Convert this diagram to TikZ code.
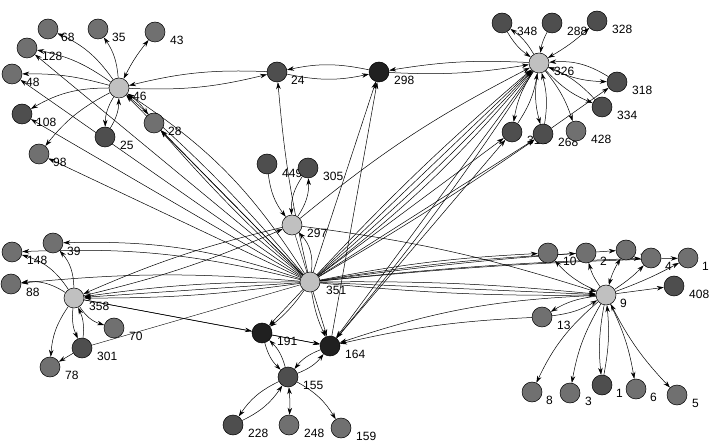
\documentclass[tikz,border=0pt]{standalone}
\usepackage{fontspec}
\setmainfont{Liberation Sans}
\usetikzlibrary{arrows.meta,backgrounds}
\definecolor{cl}{RGB}{192,192,192}
\definecolor{cm}{RGB}{112,112,112}
\definecolor{cd}{RGB}{78,78,78}
\definecolor{ck}{RGB}{32,32,32}
\tikzset{
 v/.style={circle,draw=black,line width=0.5pt,minimum size=20pt,inner sep=0pt},
 vl/.style={v,fill=cl}, vm/.style={v,fill=cm}, vd/.style={v,fill=cd}, vk/.style={v,fill=ck},
 lab/.style={anchor=west,inner sep=0pt,font=\fontsize{12}{12}\selectfont},
 e/.style={-{Stealth[length=7pt,width=4.5pt]},line width=0.5pt},
 ee/.style={{Stealth[length=7pt,width=4.5pt]}-{Stealth[length=7pt,width=4.5pt]},line width=0.5pt},
}
\begin{document}
\begin{tikzpicture}[x=1pt,y=-1pt]
\useasboundingbox (0,0) rectangle (709,443);
% nodes
\node[vm] (n68) at (48,29) {};
\node[vm] (n35) at (98,29) {};
\node[vm] (n43) at (155,32) {};
\node[vm] (n128) at (27,48) {};
\node[vm] (n48) at (12,74) {};
\node[vl] (n46) at (119,88) {};
\node[vd] (n108) at (22,114) {};
\node[vm] (n28) at (154,123) {};
\node[vd] (n25) at (105,137) {};
\node[vm] (n98) at (39,154) {};
\node[vd] (n24) at (277,72) {};
\node[vk] (n298) at (379,72) {};
\node[vd] (n449) at (267,164) {};
\node[vd] (n305) at (308,168) {};
\node[vl] (n297) at (292,225) {};
\node[vl] (n351) at (310,282) {};
\node[vd] (n348) at (502,23) {};
\node[vd] (n288) at (552,23) {};
\node[vd] (n328) at (597,21) {};
\node[vl] (n326) at (539,63) {};
\node[vd] (n318) at (617,82) {};
\node[vd] (n334) at (602,107) {};
\node[vd] (n312) at (512,132) {};
\node[vd] (n268) at (543,134) {};
\node[vm] (n428) at (576,131) {};
\node[vm] (n39) at (53,243) {};
\node[vm] (n148) at (12,252) {};
\node[vm] (n88) at (11,284) {};
\node[vl] (n358) at (74,298) {};
\node[vm] (n70) at (114,328) {};
\node[vd] (n301) at (82,348) {};
\node[vm] (n78) at (50,367) {};
\node[vk] (n191) at (262,333) {};
\node[vk] (n164) at (330,346) {};
\node[vd] (n155) at (288,377) {};
\node[vd] (n228) at (233,425) {};
\node[vm] (n248) at (289,425) {};
\node[vm] (n159) at (341,428) {};
\node[vm] (n10) at (548,253) {};
\node[vm] (n2) at (586,253) {};
\node[vm] (n7) at (626,250) {};
\node[vm] (n4) at (651,258) {};
\node[vm] (n1a) at (688,258) {};
\node[vd] (n408) at (674,286) {};
\node[vl] (n9) at (606,295) {};
\node[vm] (n13) at (542,317) {};
\node[vm] (n8) at (532,392) {};
\node[vm] (n3) at (570,393) {};
\node[vd] (n1b) at (602,385) {};
\node[vm] (n6) at (636,389) {};
\node[vm] (n5) at (677,395) {};
\begin{pgfonlayer}{background}
% labels
\node[lab] (t68) at (61,37) {68};
\node[lab] (t35) at (112,37) {35};
\node[lab] (t43) at (170,40) {43};
\node[lab] (t128) at (42,56) {128};
\node[lab] (t48) at (26,82) {48};
\node[lab] (t46) at (133,96) {46};
\node[lab] (t108) at (36,122) {108};
\node[lab] (t28) at (168,131) {28};
\node[lab] (t25) at (120,145) {25};
\node[lab] (t98) at (53,162) {98};
\node[lab] (t24) at (291,80) {24};
\node[lab] (t298) at (394,80) {298};
\node[lab] (t449) at (282,173) {449};
\node[lab] (t305) at (323,176) {305};
\node[lab] (t297) at (307,233) {297};
\node[lab] (t351) at (326,290) {351};
\node[lab] (t348) at (517,31) {348};
\node[lab] (t288) at (567,31) {288};
\node[lab] (t328) at (612,29) {328};
\node[lab] (t326) at (554,71) {326};
\node[lab] (t318) at (632,90) {318};
\node[lab] (t334) at (617,115) {334};
\node[lab] (t312) at (527,140) {312};
\node[lab] (t268) at (558,142) {268};
\node[lab] (t428) at (591,139) {428};
\node[lab] (t39) at (67,251) {39};
\node[lab] (t148) at (27,260) {148};
\node[lab] (t88) at (26,292) {88};
\node[lab] (t358) at (89,306) {358};
\node[lab] (t70) at (129,336) {70};
\node[lab] (t301) at (97,356) {301};
\node[lab] (t78) at (65,375) {78};
\node[lab] (t191) at (277,341) {191};
\node[lab] (t164) at (345,354) {164};
\node[lab] (t155) at (303,385) {155};
\node[lab] (t228) at (248,433) {228};
\node[lab] (t248) at (304,433) {248};
\node[lab] (t159) at (356,436) {159};
\node[lab] (t10) at (563,261) {10};
\node[lab] (t2) at (600,261) {2};
\node[lab] (t7) at (640,258) {7};
\node[lab] (t4) at (665,266) {4};
\node[lab] (t1a) at (702,266) {1};
\node[lab] (t408) at (689,294) {408};
\node[lab] (t9) at (620,303) {9};
\node[lab] (t13) at (557,325) {13};
\node[lab] (t8) at (546,400) {8};
\node[lab] (t3) at (585,401) {3};
\node[lab] (t1b) at (616,393) {1};
\node[lab] (t6) at (650,397) {6};
\node[lab] (t5) at (692,403) {5};
% edges: 46 cluster
\draw[e] (n46) to[bend right=15] (n68);
\draw[e] (n46) to[bend right=15] (n35);
\draw[ee] (n46) to[bend left=6] (n43);
\draw[e] (n46) to[bend right=12] (n128);
\draw[e] (n46) to[bend right=8] (n48);
\draw[e] (n46) to[bend right=15] (n108);
\draw[e] (n46) to[bend right=12] (n98);
\draw[e] (n46) to[bend right=15] (n25);
\draw[e] (n25) to[bend right=15] (n46);
\draw[ee] (n46) to[bend left=10] (n28);
\draw[e] (n351) -- (n128);
\draw[e] (n351) -- (n48);
\draw[e] (n351) -- (n108);
\draw[e] (n351) -- (n98);
\draw[e] (n351) -- (n46);
\draw[e] (n351) to[bend right=4] (n46);
\draw[e] (n351) to[bend right=12] (n46);
\draw[e] (n351) -- (n28);
\draw[e] (n351) to[bend left=3] (n28);
% 24 / 298 / 326
\draw[e] (n46) to[bend right=8] (n24);
\draw[e] (n24) to[bend right=8] (n46);
\draw[e] (n24) to[bend right=12] (n298);
\draw[e] (n298) to[bend right=12] (n24);
\draw[e] (n298) to[bend right=6] (n326);
\draw[e] (n326) to[bend right=6] (n298);
\draw[e] (n351) to[bend left=4] (n24);
\draw[e] (n351) -- (n298);
\draw[e] (n164) -- (n298);
\draw[e] (n297) to[bend left=6] (n326);
\draw[e] (n351) -- (n326);
\draw[e] (n351) to[bend left=3] (n326);
\draw[e] (n351) to[bend right=3] (n326);
\draw[e] (n351) to[bend right=6] (n326);
\draw[e] (n351) -- (n312);
\draw[e] (n351) -- (n268);
\draw[e] (n351) to[bend right=2] (n268);
\draw[e] (n164) -- (n312);
\draw[e] (n326) -- (n164);
\draw[e] (n326) to[bend left=3] (n164);
% 326 cluster
\draw[e] (n326) to[bend right=12] (n348);
\draw[e] (n348) to[bend right=12] (n326);
\draw[e] (n288) to[bend right=10] (n326);
\draw[ee] (n326) to[bend right=6] (n328);
\draw[e] (n318) to[bend right=18] (n326);
\draw[e] (n326) to[bend right=12] (n318);
\draw[e] (n326) to[bend right=12] (n334);
\draw[e] (n334) to[bend right=12] (n326);
\draw[e] (n326) to[bend right=12] (n312);
\draw[e] (n312) to[bend right=12] (n326);
\draw[e] (n326) to[bend right=12] (n268);
\draw[e] (n268) to[bend right=12] (n326);
\draw[e] (n326) to[bend left=10] (n428);
\draw[e] (n268) -- (n318);
% 297
\draw[e] (n449) to[bend right=15] (n297);
\draw[e] (n297) to[bend right=18] (n305);
\draw[e] (n305) to[bend right=18] (n297);
\draw[e] (n351) to[bend right=25] (n297);
\draw (n297) -- (n351);
\draw[e] (n297) to[bend right=5] (n358);
\draw[e] (n358) to[bend right=5] (n297);
\draw[e] (n297) to[bend left=5] (n9);
% 358
\draw[e] (n358) to[bend right=20] (n39);
\draw[e] (n358) to[bend right=20] (n148);
\draw[e] (n358) to[bend right=20] (n88);
\draw[e] (n358) to[bend right=15] (n78);
\draw[e] (n358) to[bend right=15] (n301);
\draw[e] (n301) to[bend right=15] (n358);
\draw[e] (n358) to[bend right=20] (n70);
\draw[e] (n301) -- (n78);
\draw[e] (n351) to[bend right=10] (n39);
\draw[e] (n351) to[bend right=8] (n148);
\draw[e] (n351) to[bend right=5] (n88);
\draw[e] (n351) -- (n358);
\draw[e] (n351) to[bend right=4] (n358);
\draw[e] (n351) to[bend left=4] (n358);
\draw[e] (n358) -- (n191);
\draw[e] (n358) -- (n164);
\draw (n301) -- (n351);
% 191 / 164 / 155
\draw[e] (n351) -- (n191);
\draw[e] (n351) to[bend left=8] (n191);
\draw[e] (n351) -- (n164);
\draw[e] (n351) to[bend right=8] (n164);
\draw[e] (n191) to[bend right=15] (n155);
\draw[e] (n155) to[bend right=15] (n191);
\draw[e] (n155) to[bend right=15] (n164);
\draw[e] (n164) to[bend right=15] (n155);
\draw[e] (n155) to[bend right=15] (n228);
\draw[e] (n228) to[bend right=15] (n155);
\draw[ee] (n155) to[bend left=4] (n248);
\draw[e] (n155) to[bend left=15] (n159);
\draw[e] (n191) -- (n164);
\draw[e] (n13) to[bend right=5] (n164);
\draw[e] (n9) to[bend right=8] (n164);
% 9 cluster
\draw[e] (n351) to[bend left=4] (n10);
\draw[e] (n351) to[bend left=3] (n2);
\draw[e] (n351) to[bend left=2] (n7);
\draw[e] (n351) to[bend left=2] (n4);
\draw[e] (n351) to[bend left=2] (n1a);
\draw[e] (n351) -- (n9);
\draw[e] (n351) to[bend left=3] (n9);
\draw[e] (n351) to[bend right=3] (n9);
\draw[e] (n9) to[bend left=12] (n10);
\draw[e] (n9) to[bend left=10] (n2);
\draw[ee] (n9) to[bend left=8] (n7);
\draw[e] (n9) to[bend right=6] (n4);
\draw[e] (n9) to[bend right=4] (n1a);
\draw[e] (n9) -- (n408);
\draw[e] (n9) to[bend right=12] (n13);
\draw[e] (n13) to[bend right=12] (n9);
\draw[e] (n9) to[bend right=12] (n8);
\draw[e] (n9) to[bend right=10] (n3);
\draw[e] (n9) to[bend right=8] (n1b);
\draw[e] (n1b) to[bend right=8] (n9);
\draw[e] (n9) to[bend left=8] (n6);
\draw[ee] (n9) to[bend right=8] (n5);
\end{pgfonlayer}
\end{tikzpicture}
\end{document}
